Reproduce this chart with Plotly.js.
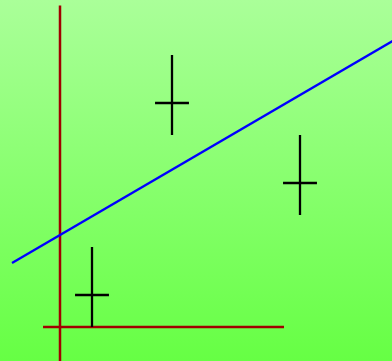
<!DOCTYPE html>
<html>
<head>
<meta charset="utf-8">
<script src="https://cdn.plot.ly/plotly-3.0.1.min.js"></script>
<style>
html,body{margin:0;padding:0;}
#chart{width:392px;height:361px;background:linear-gradient(to bottom,#aaff99 0%,#66ff44 100%);}
</style>
</head>
<body>
<div id="chart"></div>
<script>
// Data
const pointX = [1, 3.5, 7.5];
const pointY = [1, 7, 4.5];
const errYPlus = [1.5, 1.5, 1.5];
const errYMinus = [1.0, 1.0, 1.0];
const errX = [0.53, 0.53, 0.53];

const lineX = [-1.5, 10.5];
const lineY = [2, 9];

const axisHX = [-0.53, 7];
const axisHY = [0, 0];
const axisVX = [0, 0];
const axisVY = [-1.2, 10.05];

const traces = [
  {x: axisVX, y: axisVY, mode: 'lines', line: {color: '#a00000', width: 2.5}, hoverinfo: 'none'},
  {x: axisHX, y: axisHY, mode: 'lines', line: {color: '#a00000', width: 2.5}, hoverinfo: 'none'},
  {x: lineX, y: lineY, mode: 'lines', line: {color: '#0000ff', width: 2.3}, hoverinfo: 'none'},
  {x: pointX, y: pointY, mode: 'markers', marker: {size: 1, color: 'rgba(0,0,0,0)'},
   error_y: {type: 'data', symmetric: false, array: errYPlus, arrayminus: errYMinus, width: 0, thickness: 2.3, color: '#000000'},
   error_x: {type: 'data', array: errX, width: 0, thickness: 2.3, color: '#000000'},
   hoverinfo: 'none'}
];

const layout = {
  width: 392, height: 361, autosize: false,
  margin: {l: 0, r: 0, t: 0, b: 0, pad: 0},
  paper_bgcolor: 'rgba(0,0,0,0)',
  plot_bgcolor: 'rgba(0,0,0,0)',
  showlegend: false,
  xaxis: {range: [-1.875, 10.375], visible: false, fixedrange: true},
  yaxis: {range: [-1.0625, 10.21875], visible: false, fixedrange: true}
};

Plotly.newPlot('chart', traces, layout, {staticPlot: true, displayModeBar: false});
</script>
</body>
</html>
